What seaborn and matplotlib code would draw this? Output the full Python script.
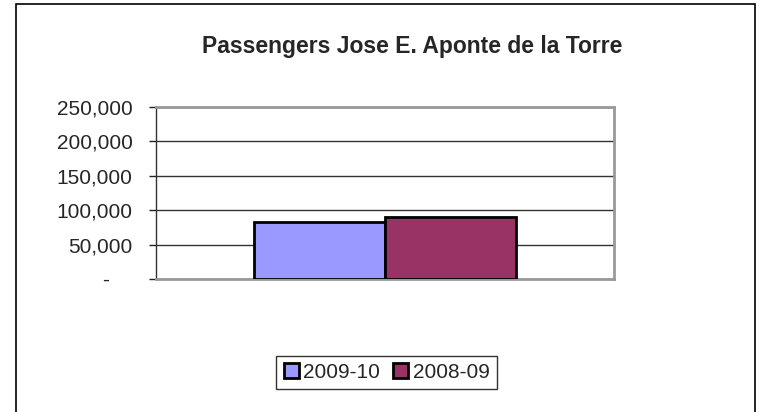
import pandas as pd
import matplotlib.pyplot as plt
import matplotlib.ticker as mticker
from matplotlib.patches import Rectangle
import seaborn as sns

# Data
airport = ['Jose E. Aponte de la Torre']
periods = ['2009-10', '2008-09']
passengers = [83500, 90400]
bar_colors = ['#9999FF', '#993366']
y_ticks = [0, 50000, 100000, 150000, 200000, 250000]

df = pd.DataFrame({
    'airport': airport * len(periods),
    'period': periods,
    'passengers': passengers,
})

sns.set_style('white')
plt.rcParams['font.family'] = ['Liberation Sans', 'DejaVu Sans']

fig = plt.figure(figsize=(7.68, 4.12), dpi=100)
ax = fig.add_axes([156 / 768, 1 - 279 / 412, 458 / 768, 172 / 412])

sns.barplot(data=df, x='airport', y='passengers', hue='period',
            palette=bar_colors, width=0.57, edgecolor='black', linewidth=2,
            saturation=1, ax=ax, legend=False, zorder=3)

ax.set_xlim(-0.5, 0.5)
ax.set_ylim(0, 250000)
ax.set_yticks(y_ticks)
# accounting style: zero shown as a dash
ax.yaxis.set_major_formatter(mticker.FuncFormatter(
    lambda v, p: '-    ' if v == 0 else f'{int(v):,}'))
ax.tick_params(axis='y', labelsize=15, length=5, width=1, color='#222222',
               direction='out', left=True, pad=12)
ax.tick_params(axis='x', bottom=False, labelbottom=False)
ax.set_xlabel('')
ax.set_ylabel('')
ax.grid(axis='y', color='#333333', linewidth=1, zorder=0)
ax.set_axisbelow(True)

for side in ['top', 'right', 'bottom']:
    ax.spines[side].set_color('#999999')
    ax.spines[side].set_linewidth(2)
ax.spines['left'].set_color('#333333')
ax.spines['left'].set_linewidth(1)

fig.text(0.5 + 28 / 768, 1 - 46 / 412, 'Passengers Jose E. Aponte de la Torre',
         ha='center', va='center', fontsize=16.5, fontweight='bold')

handles = [Rectangle((0, 0), 1, 1, facecolor=c, edgecolor='black', linewidth=2)
           for c in bar_colors]
leg = fig.legend(handles, periods, loc='center', bbox_to_anchor=(386.5 / 768, 1 - 372.5 / 412),
                 ncol=2, frameon=True, fancybox=False, fontsize=15,
                 handlelength=0.75, handleheight=0.75, handletextpad=0.2,
                 columnspacing=0.6, borderpad=0.35, borderaxespad=0)
leg.get_frame().set_edgecolor('black')
leg.get_frame().set_linewidth(1)

# outer chart frame
fig.patches.append(Rectangle((16 / 768, -0.05), (755 - 16) / 768, 1.05 - 4 / 412,
                             transform=fig.transFigure, fill=False,
                             edgecolor='black', linewidth=1.2))

fig.savefig('out.png', dpi=100)
